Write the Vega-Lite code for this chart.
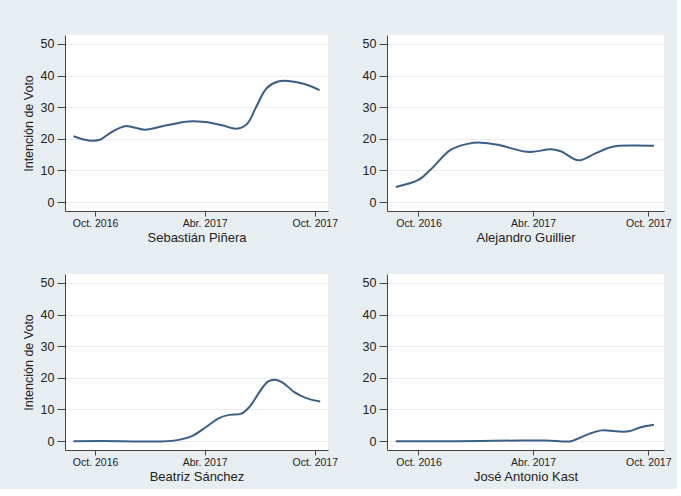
{
  "$schema": "https://vega.github.io/schema/vega-lite/v6.json",
  "background": "#E6EEF2",
  "padding": {"left": 22, "top": 35, "right": 5, "bottom": 5},
  "datasets": {
    "polls": [
      {"c": "Sebastián Piñera", "d": "2016-08-26", "v": 20.8},
      {"c": "Sebastián Piñera", "d": "2016-09-12", "v": 19.8},
      {"c": "Sebastián Piñera", "d": "2016-09-28", "v": 19.4},
      {"c": "Sebastián Piñera", "d": "2016-10-10", "v": 19.8},
      {"c": "Sebastián Piñera", "d": "2016-10-29", "v": 22.2},
      {"c": "Sebastián Piñera", "d": "2016-11-20", "v": 24.0},
      {"c": "Sebastián Piñera", "d": "2016-12-23", "v": 22.9},
      {"c": "Sebastián Piñera", "d": "2017-01-26", "v": 24.2},
      {"c": "Sebastián Piñera", "d": "2017-03-05", "v": 25.5},
      {"c": "Sebastián Piñera", "d": "2017-04-02", "v": 25.3},
      {"c": "Sebastián Piñera", "d": "2017-04-30", "v": 24.3},
      {"c": "Sebastián Piñera", "d": "2017-05-24", "v": 23.2},
      {"c": "Sebastián Piñera", "d": "2017-06-10", "v": 24.6},
      {"c": "Sebastián Piñera", "d": "2017-06-26", "v": 30.2},
      {"c": "Sebastián Piñera", "d": "2017-07-13", "v": 36.0},
      {"c": "Sebastián Piñera", "d": "2017-08-01", "v": 38.1},
      {"c": "Sebastián Piñera", "d": "2017-08-18", "v": 38.3},
      {"c": "Sebastián Piñera", "d": "2017-09-14", "v": 37.3},
      {"c": "Sebastián Piñera", "d": "2017-10-09", "v": 35.4},

      {"c": "Alejandro Guillier", "d": "2016-08-26", "v": 4.8},
      {"c": "Alejandro Guillier", "d": "2016-10-01", "v": 7.0},
      {"c": "Alejandro Guillier", "d": "2016-10-20", "v": 10.2},
      {"c": "Alejandro Guillier", "d": "2016-11-21", "v": 16.5},
      {"c": "Alejandro Guillier", "d": "2016-12-18", "v": 18.4},
      {"c": "Alejandro Guillier", "d": "2017-01-08", "v": 18.8},
      {"c": "Alejandro Guillier", "d": "2017-02-04", "v": 18.1},
      {"c": "Alejandro Guillier", "d": "2017-03-18", "v": 16.0},
      {"c": "Alejandro Guillier", "d": "2017-04-01", "v": 15.9},
      {"c": "Alejandro Guillier", "d": "2017-04-30", "v": 16.7},
      {"c": "Alejandro Guillier", "d": "2017-05-16", "v": 16.0},
      {"c": "Alejandro Guillier", "d": "2017-06-12", "v": 13.2},
      {"c": "Alejandro Guillier", "d": "2017-07-09", "v": 15.4},
      {"c": "Alejandro Guillier", "d": "2017-08-05", "v": 17.5},
      {"c": "Alejandro Guillier", "d": "2017-09-06", "v": 17.9},
      {"c": "Alejandro Guillier", "d": "2017-10-10", "v": 17.8},

      {"c": "Beatriz Sánchez", "d": "2016-08-26", "v": 0.0},
      {"c": "Beatriz Sánchez", "d": "2016-11-15", "v": 0.0},
      {"c": "Beatriz Sánchez", "d": "2017-01-20", "v": -0.1},
      {"c": "Beatriz Sánchez", "d": "2017-02-17", "v": 0.4},
      {"c": "Beatriz Sánchez", "d": "2017-03-11", "v": 1.6},
      {"c": "Beatriz Sánchez", "d": "2017-04-03", "v": 4.4},
      {"c": "Beatriz Sánchez", "d": "2017-04-25", "v": 7.3},
      {"c": "Beatriz Sánchez", "d": "2017-05-12", "v": 8.3},
      {"c": "Beatriz Sánchez", "d": "2017-05-31", "v": 8.6},
      {"c": "Beatriz Sánchez", "d": "2017-06-14", "v": 10.7},
      {"c": "Beatriz Sánchez", "d": "2017-07-01", "v": 15.5},
      {"c": "Beatriz Sánchez", "d": "2017-07-15", "v": 18.8},
      {"c": "Beatriz Sánchez", "d": "2017-07-27", "v": 19.4},
      {"c": "Beatriz Sánchez", "d": "2017-08-08", "v": 18.6},
      {"c": "Beatriz Sánchez", "d": "2017-08-28", "v": 15.5},
      {"c": "Beatriz Sánchez", "d": "2017-09-17", "v": 13.6},
      {"c": "Beatriz Sánchez", "d": "2017-10-10", "v": 12.5},

      {"c": "José Antonio Kast", "d": "2016-08-26", "v": 0.0},
      {"c": "José Antonio Kast", "d": "2016-12-01", "v": 0.0},
      {"c": "José Antonio Kast", "d": "2017-03-11", "v": 0.2},
      {"c": "José Antonio Kast", "d": "2017-04-22", "v": 0.2},
      {"c": "José Antonio Kast", "d": "2017-05-29", "v": -0.1},
      {"c": "José Antonio Kast", "d": "2017-06-08", "v": 0.5},
      {"c": "José Antonio Kast", "d": "2017-06-29", "v": 2.3},
      {"c": "José Antonio Kast", "d": "2017-07-20", "v": 3.4},
      {"c": "José Antonio Kast", "d": "2017-08-10", "v": 3.1},
      {"c": "José Antonio Kast", "d": "2017-08-31", "v": 3.1},
      {"c": "José Antonio Kast", "d": "2017-09-19", "v": 4.4},
      {"c": "José Antonio Kast", "d": "2017-10-10", "v": 5.2}
    ]
  },
  "data": {"name": "polls"},
  "columns": 2,
  "spacing": {"column": 24, "row": 29},
  "concat": [
    {
      "width": 263, "height": 176,
      "transform": [{"filter": "datum.c == 'Sebastián Piñera'"}],
      "mark": {"type": "line", "interpolate": "catmull-rom"},
      "encoding": {
        "x": {"field": "d", "type": "temporal", "title": "Sebastián Piñera",
              "axis": {"values": [{"year": 2016, "month": 10, "date": 1, "utc": true}, {"year": 2017, "month": 4, "date": 1, "utc": true}, {"year": 2017, "month": 10, "date": 1, "utc": true}],
                       "labelExpr": "(utcmonth(datum.value) == 9 ? 'Oct. ' : 'Abr. ') + utcyear(datum.value)"},
              "scale": {"type": "utc", "domain": [{"year": 2016, "month": 8, "date": 12, "utc": true}, {"year": 2017, "month": 10, "date": 23, "utc": true}]}},
        "y": {"field": "v", "type": "quantitative", "title": "Intención de Voto",
              "axis": {"values": [0, 10, 20, 30, 40, 50]},
              "scale": {"domain": [-2.8, 52.8], "nice": false, "zero": false}}
      }
    },
    {
      "width": 277, "height": 176,
      "transform": [{"filter": "datum.c == 'Alejandro Guillier'"}],
      "mark": {"type": "line", "interpolate": "catmull-rom"},
      "encoding": {
        "x": {"field": "d", "type": "temporal", "title": "Alejandro Guillier",
              "axis": {"values": [{"year": 2016, "month": 10, "date": 1, "utc": true}, {"year": 2017, "month": 4, "date": 1, "utc": true}, {"year": 2017, "month": 10, "date": 1, "utc": true}],
                       "labelExpr": "(utcmonth(datum.value) == 9 ? 'Oct. ' : 'Abr. ') + utcyear(datum.value)"},
              "scale": {"type": "utc", "domain": [{"year": 2016, "month": 8, "date": 12, "utc": true}, {"year": 2017, "month": 10, "date": 26, "utc": true}]}},
        "y": {"field": "v", "type": "quantitative", "title": null,
              "axis": {"values": [0, 10, 20, 30, 40, 50]},
              "scale": {"domain": [-2.8, 52.8], "nice": false, "zero": false}}
      }
    },
    {
      "width": 263, "height": 176,
      "transform": [{"filter": "datum.c == 'Beatriz Sánchez'"}],
      "mark": {"type": "line", "interpolate": "catmull-rom"},
      "encoding": {
        "x": {"field": "d", "type": "temporal", "title": "Beatriz Sánchez",
              "axis": {"values": [{"year": 2016, "month": 10, "date": 1, "utc": true}, {"year": 2017, "month": 4, "date": 1, "utc": true}, {"year": 2017, "month": 10, "date": 1, "utc": true}],
                       "labelExpr": "(utcmonth(datum.value) == 9 ? 'Oct. ' : 'Abr. ') + utcyear(datum.value)"},
              "scale": {"type": "utc", "domain": [{"year": 2016, "month": 8, "date": 12, "utc": true}, {"year": 2017, "month": 10, "date": 23, "utc": true}]}},
        "y": {"field": "v", "type": "quantitative", "title": "Intención de Voto",
              "axis": {"values": [0, 10, 20, 30, 40, 50]},
              "scale": {"domain": [-2.8, 52.8], "nice": false, "zero": false}}
      }
    },
    {
      "width": 277, "height": 176,
      "transform": [{"filter": "datum.c == 'José Antonio Kast'"}],
      "mark": {"type": "line", "interpolate": "catmull-rom"},
      "encoding": {
        "x": {"field": "d", "type": "temporal", "title": "José Antonio Kast",
              "axis": {"values": [{"year": 2016, "month": 10, "date": 1, "utc": true}, {"year": 2017, "month": 4, "date": 1, "utc": true}, {"year": 2017, "month": 10, "date": 1, "utc": true}],
                       "labelExpr": "(utcmonth(datum.value) == 9 ? 'Oct. ' : 'Abr. ') + utcyear(datum.value)"},
              "scale": {"type": "utc", "domain": [{"year": 2016, "month": 8, "date": 12, "utc": true}, {"year": 2017, "month": 10, "date": 26, "utc": true}]}},
        "y": {"field": "v", "type": "quantitative", "title": null,
              "axis": {"values": [0, 10, 20, 30, 40, 50]},
              "scale": {"domain": [-2.8, 52.8], "nice": false, "zero": false}}
      }
    }
  ],
  "config": {
    "font": "Liberation Sans",
    "view": {"fill": "white", "stroke": null},
    "line": {"color": "#3A5F87", "strokeWidth": 2},
    "axisX": {
      "grid": false,
      "tickSize": 5,
      "labelPadding": 2,
      "labelFontSize": 10.5,
      "titleFontSize": 13,
      "titleFontWeight": "normal",
      "titlePadding": 3
    },
    "axisY": {
      "grid": true,
      "gridColor": "#E6EEF2",
      "gridWidth": 1,
      "tickSize": 8,
      "labelPadding": 3,
      "labelFontSize": 12.5,
      "titleFontSize": 12.5,
      "titleFontWeight": "normal",
      "titlePadding": 5
    },
    "axis": {
      "domainColor": "#444",
      "tickColor": "#444",
      "labelColor": "#222",
      "titleColor": "#222",
      "labelFlush": false
    }
  }
}
